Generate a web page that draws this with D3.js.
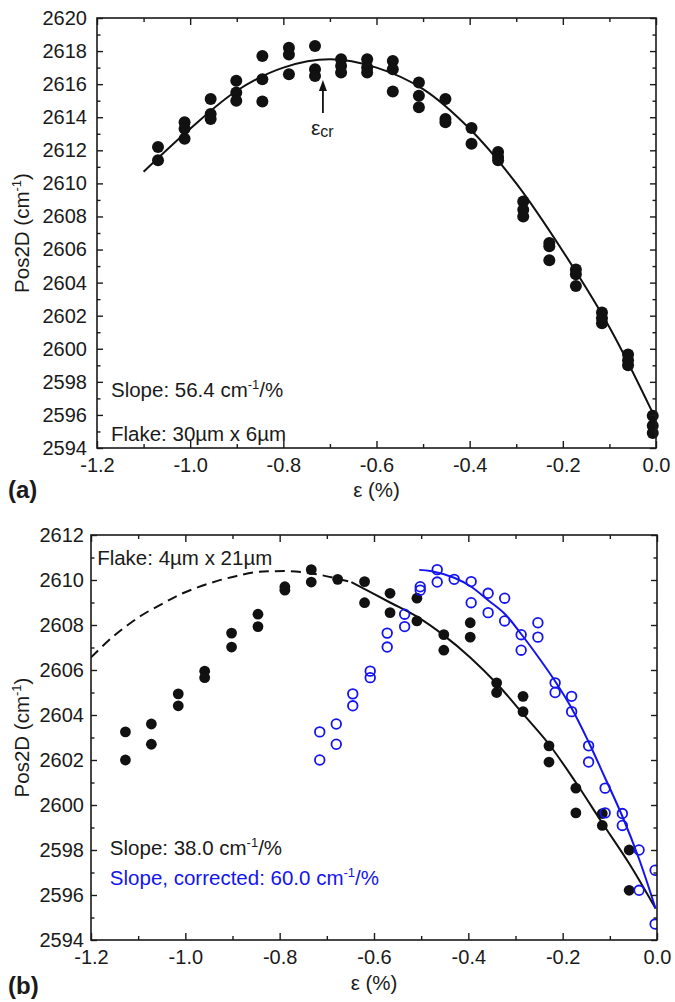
<!DOCTYPE html>
<html><head><meta charset="utf-8">
<script src="https://cdn.jsdelivr.net/npm/d3@7"></script>
<style>
body{margin:0;background:#fff}
text{font-family:"Liberation Sans",Arial,sans-serif;fill:#1a1a1a}
</style>
</head><body>
<svg id="c" width="675" height="1002"></svg>
<script>
// ---------- Panel (a) data ----------
const aStrain = [-1.069,-1.012,-0.956,-0.901,-0.845,-0.788,-0.732,-0.676,-0.620,-0.565,-0.509,-0.452,-0.396,-0.339,-0.285,-0.229,-0.172,-0.116,-0.060,-0.007];
const aPos = [
  [2612.2,2611.4],[2613.7,2613.3,2612.7],[2615.1,2614.2,2613.9],[2616.2,2615.5,2615.0],
  [2617.7,2616.3,2614.95],[2618.2,2617.8,2616.6],[2618.3,2616.9,2616.5],[2617.5,2617.1,2616.7],
  [2617.5,2617.0,2616.7],[2617.4,2616.9,2615.55],[2616.1,2615.3,2614.6],[2615.1,2613.9,2613.7],
  [2613.35,2612.4],[2611.9,2611.6,2611.4],[2608.9,2608.4,2608.0],[2606.4,2606.2,2605.35],
  [2604.8,2604.5,2603.8],[2602.2,2601.85,2601.55],[2599.65,2599.3,2599.0],[2595.95,2595.35,2594.9]
];
const aFitX = [-1.10,-1.0,-0.9,-0.8,-0.7,-0.6,-0.5,-0.4,-0.3,-0.2,-0.1,-0.005];
const aFitY = [2610.7,2613.3,2615.6,2617.0,2617.5,2617.0,2615.7,2613.3,2610.0,2605.9,2601.3,2596.0];

// ---------- Panel (b) data ----------
const bStrain = [-1.127,-1.072,-1.015,-0.959,-0.902,-0.846,-0.789,-0.733,-0.677,-0.620,-0.566,-0.509,-0.452,-0.396,-0.340,-0.284,-0.229,-0.172,-0.116,-0.059];
const bPos = [
  [2603.25,2602.0],[2603.6,2602.7],[2604.94,2604.41],[2605.95,2605.66],[2607.64,2607.02],
  [2608.48,2607.93],[2609.70,2609.55],[2610.46,2609.91],[2610.03],[2609.93,2608.99],
  [2609.41,2608.55],[2609.19,2608.18],[2607.57,2606.88],[2608.1,2607.46],[2605.43,2605.0],
  [2604.83,2604.15],[2602.63,2601.91],[2600.75,2599.65],[2599.62,2599.09],[2598.0,2596.21]
];
const bCorrStrain = [-0.715,-0.680,-0.645,-0.608,-0.572,-0.535,-0.502,-0.466,-0.430,-0.394,-0.358,-0.323,-0.288,-0.2525,-0.216,-0.181,-0.145,-0.110,-0.0735,-0.038,-0.004];
const bCorrPos = [
  [2603.25,2602.0],[2603.6,2602.7],[2604.94,2604.41],[2605.95,2605.66],[2607.64,2607.02],
  [2608.48,2607.93],[2609.70,2609.55],[2610.46,2609.91],[2610.03],[2609.93,2608.99],
  [2609.41,2608.55],[2609.19,2608.18],[2607.57,2606.88],[2608.1,2607.46],[2605.43,2605.0],
  [2604.83,2604.15],[2602.63,2601.91],[2600.75,2599.65],[2599.62,2599.09],[2598.0,2596.21],[2597.1,2594.71]
];
const bDashX = [-1.2,-1.158,-1.122,-1.087,-1.048,-1.013,-0.974,-0.932,-0.893,-0.851,-0.812,-0.766,-0.72,-0.678,-0.648];
const bDashY = [2606.56,2607.4,2608.0,2608.5,2608.95,2609.34,2609.67,2609.96,2610.17,2610.35,2610.39,2610.38,2610.25,2610.06,2609.91];
const bFitX = [-0.648,-0.566,-0.509,-0.452,-0.396,-0.340,-0.284,-0.229,-0.172,-0.116,-0.059,-0.003];
const bFitY = [2609.91,2609.0,2608.37,2607.54,2606.56,2605.4,2604.05,2602.7,2601.0,2599.2,2597.4,2595.4];
const bCorrFitX = [-0.504,-0.48,-0.43,-0.394,-0.358,-0.323,-0.288,-0.2525,-0.216,-0.181,-0.145,-0.110,-0.0735,-0.038,-0.003];
const bCorrFitY = [2610.45,2610.4,2610.1,2609.7,2609.1,2608.5,2607.6,2606.6,2605.5,2604.3,2602.8,2601.2,2599.5,2597.6,2595.4];

// ---------- ticks ----------
const xMajor = [-1.2,-1.0,-0.8,-0.6,-0.4,-0.2,0.0];
const xMinor = [-1.1,-0.9,-0.7,-0.5,-0.3,-0.1];
const aYMajor = [2594,2596,2598,2600,2602,2604,2606,2608,2610,2612,2614,2616,2618,2620];
const bYMajor = [2594,2596,2598,2600,2602,2604,2606,2608,2610,2612];

const svg = d3.select("#c");
const BLUE = "#1414f0";
const FS = 20;

function flat(xs, vals){ const o=[]; xs.forEach((x,i)=>vals[i].forEach(v=>o.push([x,v]))); return o; }
function zip(xs, ys){ return xs.map((x,i)=>[x,ys[i]]); }

function drawAxes(g, x, y, yMajor, yLblPad){
  const [x0,x1]=x.range(), [y1,y0]=y.range();
  const yMinor = yMajor.slice(0,-1).map(v=>v+1);
  const fx = d=>d.toFixed(1);
  g.append("g").attr("transform",`translate(0,${y1})`)
    .call(d3.axisBottom(x).tickValues(xMajor).tickSize(-7).tickSizeOuter(0).tickPadding(10).tickFormat(fx));
  g.append("g").attr("transform",`translate(0,${y1})`)
    .call(d3.axisBottom(x).tickValues(xMinor).tickSize(-4).tickSizeOuter(0).tickFormat(""));
  g.append("g").attr("transform",`translate(0,${y0})`)
    .call(d3.axisTop(x).tickValues(xMajor).tickSize(-7).tickSizeOuter(0).tickFormat(""));
  g.append("g").attr("transform",`translate(0,${y0})`)
    .call(d3.axisTop(x).tickValues(xMinor).tickSize(-4).tickSizeOuter(0).tickFormat(""));
  g.append("g").attr("transform",`translate(${x0},0)`)
    .call(d3.axisLeft(y).tickValues(yMajor).tickSize(-6).tickSizeOuter(0).tickPadding(yLblPad).tickFormat(d3.format("d")));
  g.append("g").attr("transform",`translate(${x0},0)`)
    .call(d3.axisLeft(y).tickValues(yMinor).tickSize(-3.5).tickSizeOuter(0).tickFormat(""));
  g.append("g").attr("transform",`translate(${x1},0)`)
    .call(d3.axisRight(y).tickValues(yMajor).tickSize(-6).tickSizeOuter(0).tickFormat(""));
  g.append("g").attr("transform",`translate(${x1},0)`)
    .call(d3.axisRight(y).tickValues(yMinor).tickSize(-3.5).tickSizeOuter(0).tickFormat(""));
  g.selectAll(".domain").remove();
  g.selectAll(".tick line").attr("stroke","#1a1a1a").attr("stroke-width",1.4);
  g.selectAll(".tick text").attr("font-size",FS).attr("fill","#1a1a1a")
    .attr("font-family",'"Liberation Sans",Arial,sans-serif');
  g.append("rect").attr("x",x0).attr("y",y0).attr("width",x1-x0).attr("height",y1-y0)
    .attr("fill","none").attr("stroke","#1a1a1a").attr("stroke-width",1.6);
}

function cmText(sel, prefix, suffix, color){
  const t = sel.append("text").attr("font-size",FS+0.5);
  if(color) t.style("fill",color);
  t.append("tspan").text(prefix);
  t.append("tspan").attr("dy",-8).attr("font-size",13).text("-1");
  t.append("tspan").attr("dy",8).text(suffix);
  return t;
}

function yTitle(g, cy){
  const t = g.append("text").attr("transform",`translate(29,${cy}) rotate(-90)`)
    .attr("text-anchor","middle").attr("font-size",FS+0.5);
  t.append("tspan").text("Pos2D (cm");
  t.append("tspan").attr("dy",-8).attr("font-size",13).text("-1");
  t.append("tspan").attr("dy",8).text(")");
}

const line = d3.line().curve(d3.curveCatmullRom.alpha(0.5));

// ================= Panel (a) =================
{
  const x = d3.scaleLinear([-1.2,0],[97,656]);
  const y = d3.scaleLinear([2594,2620],[448,18]);
  const g = svg.append("g");
  line.x(d=>x(d[0])).y(d=>y(d[1]));
  g.append("path").datum(zip(aFitX,aFitY)).attr("d",line).attr("fill","none")
    .attr("stroke","#111").attr("stroke-width",2);
  g.selectAll("circle.a").data(flat(aStrain,aPos)).join("circle")
    .attr("cx",d=>x(d[0])).attr("cy",d=>y(d[1])).attr("r",6).attr("fill","#111");
  drawAxes(g,x,y,aYMajor,10);
  const ax = -0.715;
  g.append("line").attr("x1",x(ax)).attr("x2",x(ax)).attr("y1",y(2614.25)).attr("y2",y(2615.7))
    .attr("stroke","#111").attr("stroke-width",1.8);
  g.append("path").attr("d",`M${x(ax)},${y(2616.25)} l-4,11 l8,0 z`).attr("fill","#111");
  const e = g.append("text").attr("x",x(ax)-12).attr("y",y(2612.9)).attr("font-size",21);
  e.append("tspan").text("ε");
  e.append("tspan").attr("font-size",16).attr("dy",2).text("cr");
  cmText(g.append("g").attr("transform",`translate(${x(-1.17)},${y(2597.1)})`),"Slope: 56.4 cm","/%");
  g.append("text").attr("x",x(-1.17)).attr("y",y(2594.4)).attr("font-size",FS+0.5).text("Flake: 30µm x 6µm");
  g.append("text").attr("x",(x(-1.2)+x(0))/2).attr("y",497).attr("text-anchor","middle").attr("font-size",FS+0.5).text("ε (%)");
  g.append("text").attr("x",8).attr("y",498).attr("font-size",24).attr("font-weight","bold").text("(a)");
  yTitle(g,(y.range()[0]+y.range()[1])/2);
}

// ================= Panel (b) =================
{
  const x = d3.scaleLinear([-1.2,0],[91,657]);
  const y = d3.scaleLinear([2594,2612],[940,535]);
  const g = svg.append("g");
  svg.append("defs").append("clipPath").attr("id","cb").append("rect")
    .attr("x",91).attr("y",535).attr("width",566).attr("height",405);
  const pl = g.append("g").attr("clip-path","url(#cb)");
  line.x(d=>x(d[0])).y(d=>y(d[1]));
  pl.append("path").datum(zip(bDashX,bDashY)).attr("d",line).attr("fill","none")
    .attr("stroke","#111").attr("stroke-width",2).attr("stroke-dasharray","10,6");
  pl.append("path").datum(zip(bFitX,bFitY)).attr("d",line).attr("fill","none")
    .attr("stroke","#111").attr("stroke-width",2);
  pl.append("path").datum(zip(bCorrFitX,bCorrFitY)).attr("d",line).attr("fill","none")
    .attr("stroke",BLUE).attr("stroke-width",2);
  pl.selectAll("circle.b").data(flat(bStrain,bPos)).join("circle")
    .attr("cx",d=>x(d[0])).attr("cy",d=>y(d[1])).attr("r",5.4).attr("fill","#111");
  pl.selectAll("circle.c").data(flat(bCorrStrain,bCorrPos)).join("circle")
    .attr("cx",d=>x(d[0])).attr("cy",d=>y(d[1])).attr("r",4.8).attr("fill","none")
    .attr("stroke",BLUE).attr("stroke-width",1.8);
  drawAxes(g,x,y,bYMajor,7);
  g.append("text").attr("x",x(-1.187)).attr("y",y(2610.67)).attr("font-size",FS+0.5).text("Flake: 4µm x 21µm");
  cmText(g.append("g").attr("transform",`translate(${x(-1.16)},${y(2597.78)})`),"Slope: 38.0 cm","/%");
  cmText(g.append("g").attr("transform",`translate(${x(-1.16)},${y(2596.44)})`),"Slope, corrected: 60.0 cm","/%",BLUE);
  g.append("text").attr("x",(x(-1.2)+x(0))/2).attr("y",990).attr("text-anchor","middle").attr("font-size",FS+0.5).text("ε (%)");
  g.append("text").attr("x",8).attr("y",994).attr("font-size",24).attr("font-weight","bold").text("(b)");
  yTitle(g,(y.range()[0]+y.range()[1])/2);
}
</script>
</body></html>
